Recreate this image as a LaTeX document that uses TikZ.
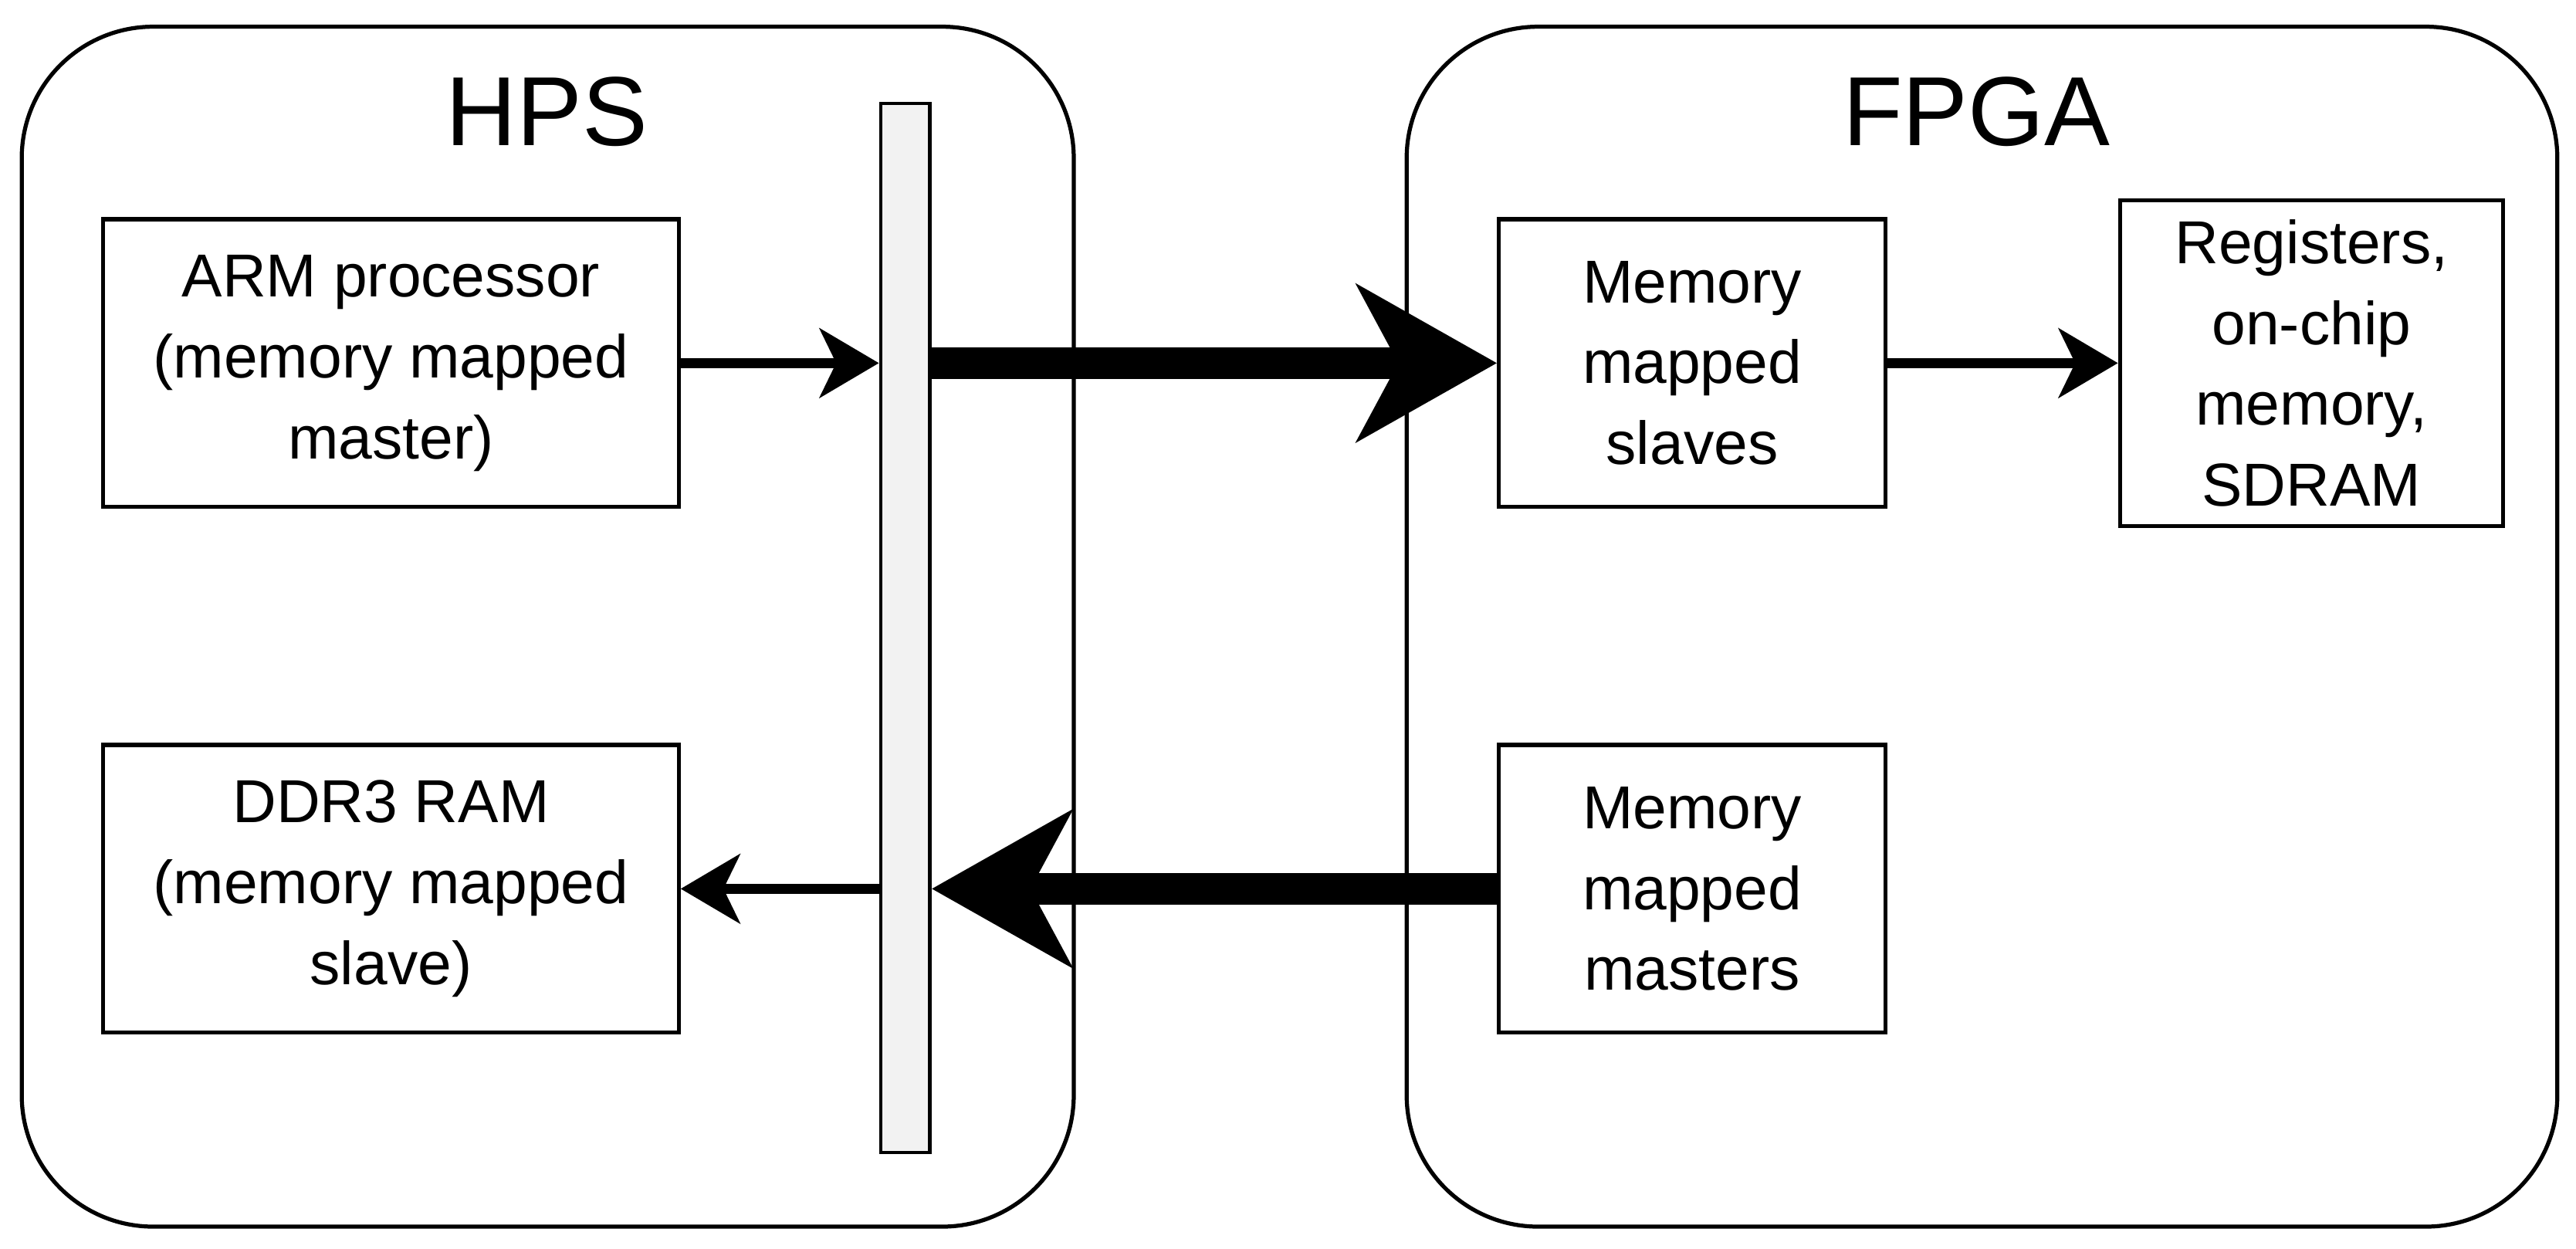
\documentclass[tikz,border=0pt]{standalone}
\usepackage{fontspec}
\setmainfont{Liberation Sans}
\usetikzlibrary{arrows.meta,
                positioning}
\tikzset{region/.style=
   {rectangle,
    draw,
    line width=0.7pt,
    rounded corners=0.8cm}}
\tikzset{block/.style=
   {rectangle,
    draw,
    line width=0.7pt,
    text centered,
    align=center,
    font=\fontsize{10.5}{14}\selectfont,
    minimum width=3.5cm,
    minimum height=1.75cm}}
\tikzset{arrow/.style = {draw, line width=1.8pt, -{Stealth[length=0.36cm,width=0.42cm,inset=0.1cm]}}}
\tikzset{bigarrow/.style = {draw, line width=5.5pt, -{Stealth[length=0.85cm,width=0.95cm,inset=0.25cm]}}}

\begin{document}
\begin{tikzpicture}[x=0.01cm,y=-0.01cm]
    \useasboundingbox (0,0) rectangle (1568,760);

    % regions
    \node [region, minimum width=6.4cm, minimum height=7.3cm,
           anchor=north west] (hps) at (12,15) {};
    \node [region, minimum width=7cm, minimum height=7.3cm,
           anchor=north west] (fpga) at (855,15) {};
    \node [font=\fontsize{17}{20}\selectfont] (hpstitle) at (333,68) {HPS};
    \node [font=\fontsize{17}{20}\selectfont] (fpgatitle) at (1203,68) {FPGA};

    % interconnect
    \node [draw, line width=0.6pt, fill=gray!10, minimum width=0.3cm,
           minimum height=6.38cm, anchor=north west] (bus) at (535,62) {};

    % blocks
    \node [block] (arm) at (238,221)
    {ARM processor\\(memory mapped\\master)};
    \node [block] (ddr) at (238,541)
    {DDR3 RAM\\(memory mapped\\slave)};
    \node [block, minimum width=2.35cm] (slaves) at (1030,221)
    {Memory\\mapped\\slaves};
    \node [block, minimum width=2.35cm] (masters) at (1030,541)
    {Memory\\mapped\\masters};
    \node [block, minimum width=2.33cm] (regs) at (1407,221)
    {Registers,\\on-chip\\memory,\\SDRAM};

    % connections
    \draw [arrow] (arm.east) -- (arm.east -| bus.west);
    \draw [bigarrow] (arm.east -| bus.east) -- (slaves.west);
    \draw [arrow] (slaves.east) -- (regs.west);
    \draw [bigarrow] (masters.west) -- (masters.west -| bus.east);
    \draw [arrow] (ddr.east -| bus.west) -- (ddr.east);

\end{tikzpicture}
\end{document}
